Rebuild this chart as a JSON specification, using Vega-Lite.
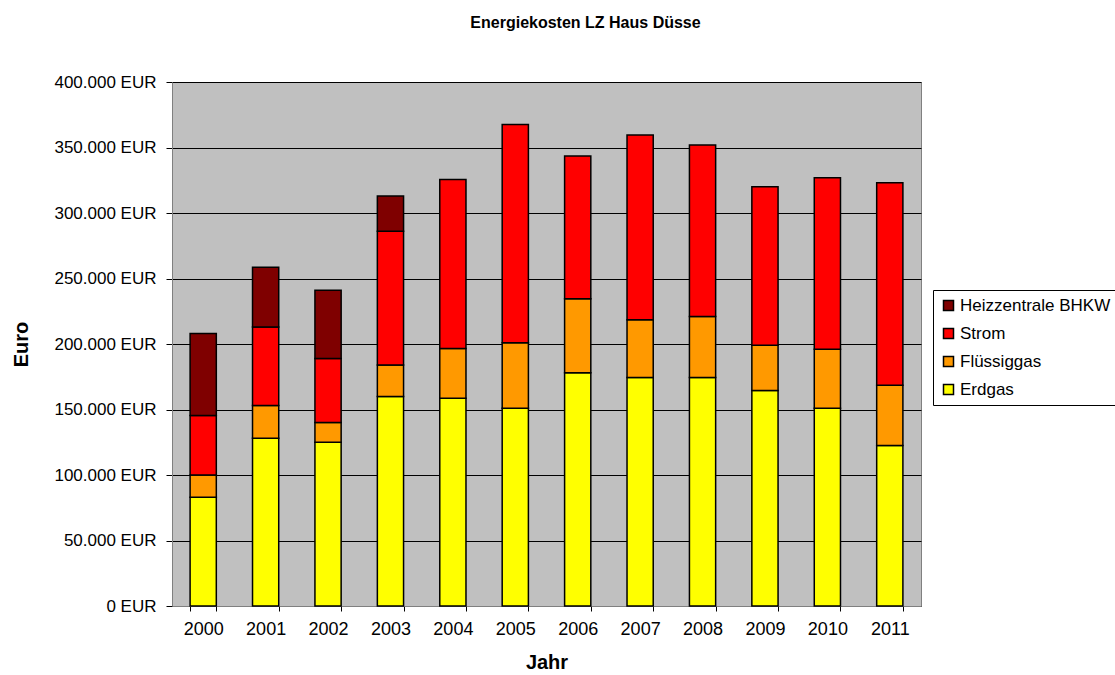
{
  "$schema": "https://vega.github.io/schema/vega-lite/v6.json",
  "autosize": "none",
  "width": 749,
  "height": 524,
  "padding": {"left": 172, "top": 82, "right": 194, "bottom": 69},
  "background": "white",
  "title": {"text": "Energiekosten LZ Haus Düsse", "font": "Liberation Sans", "fontSize": 16, "fontWeight": "bold", "color": "black", "anchor": "middle", "dx": 39, "offset": 42},
  "config": {
    "font": "Liberation Sans",
    "view": {"fill": "#C0C0C0", "stroke": "#808080", "strokeWidth": 1}
  },
  "data": {"values": [
    {"Jahr": "2000", "Art": "Erdgas", "o": 1, "Euro": 83000},
    {"Jahr": "2000", "Art": "Flüssiggas", "o": 2, "Euro": 17000},
    {"Jahr": "2000", "Art": "Strom", "o": 3, "Euro": 45500},
    {"Jahr": "2000", "Art": "Heizzentrale BHKW", "o": 4, "Euro": 62500},
    {"Jahr": "2001", "Art": "Erdgas", "o": 1, "Euro": 128000},
    {"Jahr": "2001", "Art": "Flüssiggas", "o": 2, "Euro": 25000},
    {"Jahr": "2001", "Art": "Strom", "o": 3, "Euro": 60000},
    {"Jahr": "2001", "Art": "Heizzentrale BHKW", "o": 4, "Euro": 45500},
    {"Jahr": "2002", "Art": "Erdgas", "o": 1, "Euro": 125000},
    {"Jahr": "2002", "Art": "Flüssiggas", "o": 2, "Euro": 15000},
    {"Jahr": "2002", "Art": "Strom", "o": 3, "Euro": 49000},
    {"Jahr": "2002", "Art": "Heizzentrale BHKW", "o": 4, "Euro": 52000},
    {"Jahr": "2003", "Art": "Erdgas", "o": 1, "Euro": 160000},
    {"Jahr": "2003", "Art": "Flüssiggas", "o": 2, "Euro": 24000},
    {"Jahr": "2003", "Art": "Strom", "o": 3, "Euro": 102000},
    {"Jahr": "2003", "Art": "Heizzentrale BHKW", "o": 4, "Euro": 27000},
    {"Jahr": "2004", "Art": "Erdgas", "o": 1, "Euro": 158500},
    {"Jahr": "2004", "Art": "Flüssiggas", "o": 2, "Euro": 38000},
    {"Jahr": "2004", "Art": "Strom", "o": 3, "Euro": 129000},
    {"Jahr": "2005", "Art": "Erdgas", "o": 1, "Euro": 151000},
    {"Jahr": "2005", "Art": "Flüssiggas", "o": 2, "Euro": 50000},
    {"Jahr": "2005", "Art": "Strom", "o": 3, "Euro": 166500},
    {"Jahr": "2006", "Art": "Erdgas", "o": 1, "Euro": 178000},
    {"Jahr": "2006", "Art": "Flüssiggas", "o": 2, "Euro": 56500},
    {"Jahr": "2006", "Art": "Strom", "o": 3, "Euro": 109000},
    {"Jahr": "2007", "Art": "Erdgas", "o": 1, "Euro": 174500},
    {"Jahr": "2007", "Art": "Flüssiggas", "o": 2, "Euro": 44000},
    {"Jahr": "2007", "Art": "Strom", "o": 3, "Euro": 141000},
    {"Jahr": "2008", "Art": "Erdgas", "o": 1, "Euro": 174500},
    {"Jahr": "2008", "Art": "Flüssiggas", "o": 2, "Euro": 46500},
    {"Jahr": "2008", "Art": "Strom", "o": 3, "Euro": 131000},
    {"Jahr": "2009", "Art": "Erdgas", "o": 1, "Euro": 164500},
    {"Jahr": "2009", "Art": "Flüssiggas", "o": 2, "Euro": 34500},
    {"Jahr": "2009", "Art": "Strom", "o": 3, "Euro": 121000},
    {"Jahr": "2010", "Art": "Erdgas", "o": 1, "Euro": 151000},
    {"Jahr": "2010", "Art": "Flüssiggas", "o": 2, "Euro": 45000},
    {"Jahr": "2010", "Art": "Strom", "o": 3, "Euro": 131000},
    {"Jahr": "2011", "Art": "Erdgas", "o": 1, "Euro": 122500},
    {"Jahr": "2011", "Art": "Flüssiggas", "o": 2, "Euro": 46000},
    {"Jahr": "2011", "Art": "Strom", "o": 3, "Euro": 154500}
  ]},
  "mark": {"type": "bar", "stroke": "black", "strokeWidth": 1.5},
  "encoding": {
    "x": {
      "field": "Jahr", "type": "ordinal", "title": "Jahr",
      "scale": {"paddingInner": 0.58, "paddingOuter": 0.29},
      "axis": {"labelAngle": 0, "labelFontSize": 18, "labelColor": "black", "labelPadding": 9, "ticks": true, "tickBand": "extent", "tickSize": 5, "tickColor": "black", "domainColor": "#808080", "titleFontSize": 20, "titleFontWeight": "bold", "titleColor": "black", "titlePadding": 14}
    },
    "y": {
      "field": "Euro", "type": "quantitative", "stack": "zero", "title": "Euro",
      "scale": {"domain": [0, 400000], "nice": false},
      "axis": {"values": [0, 50000, 100000, 150000, 200000, 250000, 300000, 350000, 400000], "labelExpr": "replace(format(datum.value, ',.0f'), ',', '.') + ' EUR'", "labelFontSize": 17, "labelColor": "black", "labelPadding": 10, "tickSize": 6, "tickColor": "black", "domainColor": "#808080", "grid": true, "gridColor": "black", "gridWidth": 1.2, "gridOpacity": 1, "titleFontSize": 20, "titleFontWeight": "bold", "titleColor": "black", "titlePadding": 22}
    },
    "color": {
      "field": "Art", "type": "nominal",
      "scale": {"domain": ["Heizzentrale BHKW", "Strom", "Flüssiggas", "Erdgas"], "range": ["#7f0000", "#FF0000", "#FF9900", "#FFFF00"]},
      "legend": {"title": null, "orient": "none", "legendX": 761, "legendY": 208, "fillColor": "white", "strokeColor": "black", "padding": 7, "symbolType": "square", "symbolSize": 100, "symbolStrokeColor": "black", "symbolStrokeWidth": 1.5, "symbolOpacity": 1, "labelFontSize": 17, "labelColor": "black", "rowPadding": 10, "labelOffset": 3}
    },
    "order": {"field": "o", "type": "quantitative", "sort": "ascending"}
  }
}
